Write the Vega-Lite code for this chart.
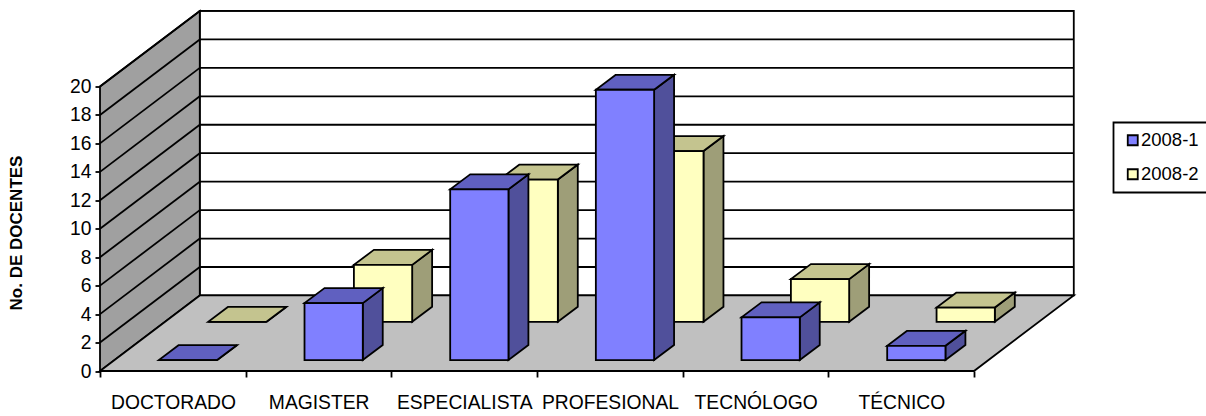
{
"$schema":"https://vega.github.io/schema/vega-lite/v6.json",
"width":874,"height":284.5,
"autosize":{"type":"none"},
"padding":{"left":100,"top":86.5,"right":232,"bottom":45},
"background":"white",
"config":{"view":{"stroke":null},"font":"Liberation Sans","legend":{"strokeWidth":1.8}},
"datasets":{
"bars":[
{"level":"DOCTORADO","series":"2008-1","value":0},
{"level":"MAGISTER","series":"2008-1","value":4},
{"level":"ESPECIALISTA","series":"2008-1","value":12},
{"level":"PROFESIONAL","series":"2008-1","value":19},
{"level":"TECNÓLOGO","series":"2008-1","value":3},
{"level":"TÉCNICO","series":"2008-1","value":1},
{"level":"DOCTORADO","series":"2008-2","value":0},
{"level":"MAGISTER","series":"2008-2","value":4},
{"level":"ESPECIALISTA","series":"2008-2","value":10},
{"level":"PROFESIONAL","series":"2008-2","value":12},
{"level":"TECNÓLOGO","series":"2008-2","value":3},
{"level":"TÉCNICO","series":"2008-2","value":1}
],
"frame":[{"n":6,"top":20}],
"ticks":[{"v":0},{"v":2},{"v":4},{"v":6},{"v":8},{"v":10},{"v":12},{"v":14},{"v":16},{"v":18},{"v":20}]
},
"resolve":{"axis":{"x":"independent","y":"independent"}},
"layer":[
{"data":{"name":"frame"},
 "resolve":{"axis":{"x":"independent","y":"independent"}},
 "transform":[{"calculate":"0.685","as":"dx"},{"calculate":"5.31","as":"dy"},{"calculate":"[0,1]","as":"tt"},{"flatten":["tt"],"as":["t"]},
  {"calculate":"datum.t*datum.dx","as":"wx"},{"calculate":"datum.t*datum.dy","as":"wb"},{"calculate":"datum.top+datum.t*datum.dy","as":"wt"},
  {"calculate":"datum.n+datum.t*datum.dx","as":"fr"}],
 "layer":[
  {"transform":[{"filter":"datum.t==1"}],
   "mark":{"type":"rect","fill":"white","stroke":"black","strokeWidth":1.8},
   "encoding":{
    "x":{"field":"wx","type":"quantitative","scale":{"domain":[0,6],"nice":false,"zero":false},
      "axis":{"values":[0,1,2,3,4,5,6],"title":null,"domain":false,"grid":false,"tickColor":"black","tickWidth":1.8,"tickSize":6,
        "labelExpr":"datum.value<6?['DOCTORADO','MAGISTER','ESPECIALISTA','PROFESIONAL','TECNÓLOGO','TÉCNICO'][datum.value]:''",
        "labelOffset":73,"labelFontSize":19.3,"labelColor":"black","labelPadding":16,"labelAngle":0,"labelFlush":false,"labelOverlap":false,"labelBound":false}},
    "x2":{"field":"fr"},
    "y":{"field":"wb","type":"quantitative","scale":{"domain":[0,20],"nice":false,"zero":false},
      "axis":{"values":[0,2,4,6,8,10,12,14,16,18,20],"title":"No. DE DOCENTES","titleFont":"Liberation Sans","titleFontSize":17,"titleFontWeight":"bold","titleColor":"black","titlePadding":44,"titleY":146,
        "domain":false,"grid":false,"tickColor":"black","tickWidth":1.8,"tickSize":5,"labelFontSize":19.3,"labelColor":"black","labelPadding":4,"labelOverlap":false}},
    "y2":{"field":"wt"}}},
  {"mark":{"type":"area","fill":"#A0A0A0","stroke":"black","strokeWidth":1.8,"orient":"vertical"},
   "encoding":{"x":{"field":"wx","type":"quantitative","axis":null},"y":{"field":"wb","type":"quantitative","axis":null},"y2":{"field":"wt"}}},
  {"mark":{"type":"area","fill":"#C0C0C0","stroke":"black","strokeWidth":1.8,"orient":"horizontal"},
   "encoding":{"x":{"field":"wx","type":"quantitative","axis":null},"x2":{"field":"fr"},"y":{"field":"wb","type":"quantitative","axis":null}}}
 ]},
{"data":{"name":"ticks"},
 "resolve":{"axis":{"x":"independent","y":"independent"}},
 "transform":[{"calculate":"0.685","as":"bx"},{"calculate":"6.685","as":"ex"},{"calculate":"0","as":"lx"},{"calculate":"datum.v+5.31","as":"by"},{"filter":"datum.v>0"}],
 "layer":[
  {"mark":{"type":"rule","color":"black","strokeWidth":1.8},
   "encoding":{"x":{"field":"bx","type":"quantitative","axis":null},"x2":{"field":"ex"},"y":{"field":"by","type":"quantitative","axis":null}}},
  {"mark":{"type":"rule","color":"black","strokeWidth":1.8},
   "encoding":{"x":{"field":"lx","type":"quantitative","axis":null},"x2":{"field":"bx"},"y":{"field":"v","type":"quantitative","axis":null},"y2":{"field":"by"}}}
 ]},
{"data":{"name":"bars"},
 "resolve":{"axis":{"x":"independent","y":"independent"}},
 "transform":[
  {"calculate":"indexof(['DOCTORADO','MAGISTER','ESPECIALISTA','PROFESIONAL','TECNÓLOGO','TÉCNICO'],datum.level)","as":"i"},
  {"calculate":"datum.series==='2008-2'?1:0","as":"s"},
  {"calculate":"datum.i+0.404+datum.s*0.339","as":"xl"},
  {"calculate":"datum.xl+0.4","as":"xr"},
  {"calculate":"0.77+datum.s*2.69","as":"yb"},
  {"calculate":"datum.yb+datum.value","as":"yt"},
  {"calculate":"[0,1]","as":"tt"},{"flatten":["tt"],"as":["t"]},
  {"calculate":"datum.xr+datum.t*0.137","as":"xrd"},
  {"calculate":"datum.xl+datum.t*0.137","as":"xld"},
  {"calculate":"datum.yb+datum.t*1.054","as":"ybd"},
  {"calculate":"datum.yt+datum.t*1.054","as":"ytd"}
 ],
 "layer":[
  {"transform":[{"filter":"datum.s==1"}],"mark":{"type":"area","fill":"#9E9E78","stroke":"black","strokeWidth":1.8,"orient":"vertical"},
   "encoding":{"detail":{"field":"level"},"x":{"field":"xrd","type":"quantitative","axis":null},"y":{"field":"ybd","type":"quantitative","axis":null},"y2":{"field":"ytd"}}},
  {"transform":[{"filter":"datum.s==1"}],"mark":{"type":"area","fill":"#C4C48F","stroke":"black","strokeWidth":1.8,"orient":"horizontal"},
   "encoding":{"detail":{"field":"level"},"x":{"field":"xld","type":"quantitative","axis":null},"x2":{"field":"xrd"},"y":{"field":"ytd","type":"quantitative","axis":null}}},
  {"transform":[{"filter":"datum.s==1 && datum.t==0"}],"mark":{"type":"rect","stroke":"black","strokeWidth":1.8},
   "encoding":{"x":{"field":"xl","type":"quantitative","axis":null},"x2":{"field":"xr"},"y":{"field":"yb","type":"quantitative","axis":null},"y2":{"field":"yt"},
    "color":{"field":"series","type":"nominal","scale":{"domain":["2008-1","2008-2"],"range":["#8080FF","#FFFFC0"]},
     "legend":{"title":null,"orient":"none","legendX":1013.5,"legendY":36,"fillColor":"white","strokeColor":"black","padding":8.5,"symbolType":"square","symbolSize":100,"symbolStrokeColor":"black","symbolStrokeWidth":1.8,"symbolOpacity":1,"symbolOffset":1.5,"labelFontSize":18.5,"labelColor":"black","labelOffset":-1,"rowPadding":15,"labelFont":"Liberation Sans"}}}},
  {"transform":[{"filter":"datum.s==0"}],"mark":{"type":"area","fill":"#50509B","stroke":"black","strokeWidth":1.8,"orient":"vertical"},
   "encoding":{"detail":{"field":"level"},"x":{"field":"xrd","type":"quantitative","axis":null},"y":{"field":"ybd","type":"quantitative","axis":null},"y2":{"field":"ytd"}}},
  {"transform":[{"filter":"datum.s==0"}],"mark":{"type":"area","fill":"#6060C0","stroke":"black","strokeWidth":1.8,"orient":"horizontal"},
   "encoding":{"detail":{"field":"level"},"x":{"field":"xld","type":"quantitative","axis":null},"x2":{"field":"xrd"},"y":{"field":"ytd","type":"quantitative","axis":null}}},
  {"transform":[{"filter":"datum.s==0 && datum.t==0"}],"mark":{"type":"rect","stroke":"black","strokeWidth":1.8},
   "encoding":{"x":{"field":"xl","type":"quantitative","axis":null},"x2":{"field":"xr"},"y":{"field":"yb","type":"quantitative","axis":null},"y2":{"field":"yt"},
    "color":{"field":"series","type":"nominal"}}}
 ]}
]
}
